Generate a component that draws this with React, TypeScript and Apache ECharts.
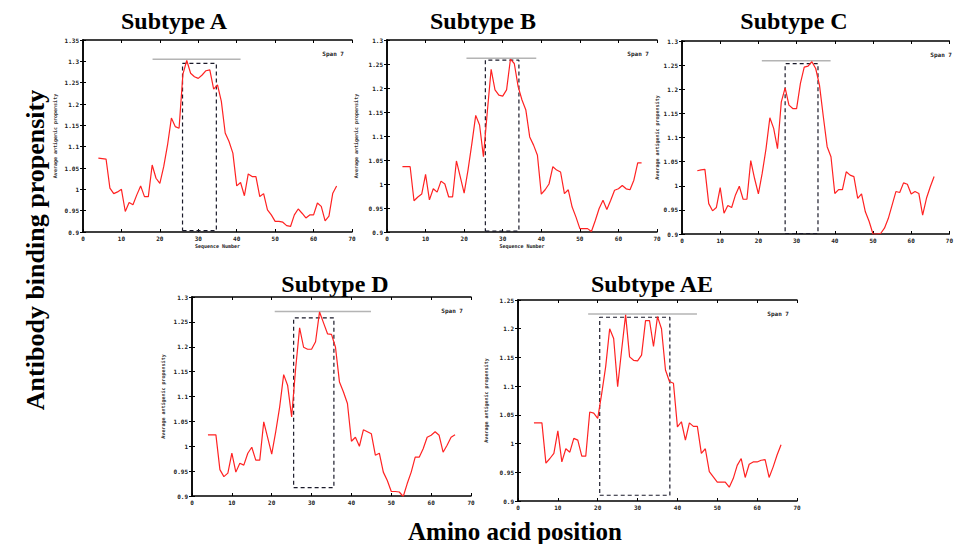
import React, { useEffect, useRef } from "react";
import * as echarts from "echarts";

// Sequence positions (window centre, span 7)
const positions = [4, 5, 6, 7, 8, 9, 10, 11, 12, 13, 14, 15, 16, 17, 18, 19, 20, 21, 22, 23, 24, 25, 26, 27, 28, 29, 30, 31, 32, 33, 34, 35, 36, 37, 38, 39, 40, 41, 42, 43, 44, 45, 46, 47, 48, 49, 50, 51, 52, 53, 54, 55, 56, 57, 58, 59, 60, 61, 62, 63, 64, 65, 66];

const subtypeA = [1.073, 1.072, 1.071, 1.003, 0.99, 0.994, 1.0, 0.948, 0.969, 0.964, 0.987, 1.008, 0.983, 0.983, 1.057, 1.026, 1.014, 1.053, 1.104, 1.167, 1.147, 1.143, 1.27, 1.302, 1.272, 1.264, 1.26, 1.268, 1.278, 1.28, 1.235, 1.245, 1.206, 1.132, 1.112, 1.085, 1.008, 1.016, 0.985, 1.036, 1.03, 1.03, 0.983, 0.99, 0.952, 0.94, 0.925, 0.925, 0.923, 0.915, 0.913, 0.94, 0.954, 0.944, 0.933, 0.94, 0.94, 0.968, 0.96, 0.926, 0.937, 0.991, 1.008];
const subtypeB = [1.036, 1.036, 1.036, 0.965, 0.973, 0.979, 1.02, 0.967, 0.99, 0.983, 1.006, 1.0, 0.973, 0.973, 1.048, 1.015, 0.981, 1.029, 1.084, 1.143, 1.123, 1.057, 1.15, 1.239, 1.196, 1.185, 1.183, 1.196, 1.26, 1.251, 1.203, 1.175, 1.154, 1.098, 1.081, 1.06, 0.979, 0.988, 1.0, 1.036, 1.029, 1.025, 0.98, 0.988, 0.952, 0.931, 0.907, 0.907, 0.907, 0.901, 0.924, 0.949, 0.966, 0.947, 0.966, 0.987, 0.99, 0.997, 0.99, 0.988, 1.008, 1.044, 1.044];
const subtypeC = [1.031, 1.033, 1.034, 0.963, 0.948, 0.955, 0.996, 0.943, 0.959, 0.955, 0.981, 0.999, 0.972, 0.972, 1.052, 1.015, 0.983, 1.026, 1.077, 1.141, 1.119, 1.077, 1.174, 1.203, 1.167, 1.16, 1.16, 1.212, 1.246, 1.248, 1.257, 1.243, 1.208, 1.143, 1.081, 1.06, 0.984, 0.992, 0.992, 1.029, 1.022, 1.019, 0.974, 0.983, 0.946, 0.926, 0.9, 0.9, 0.901, 0.912, 0.932, 0.96, 0.988, 0.986, 1.006, 1.003, 0.983, 0.988, 0.984, 0.939, 0.974, 0.998, 1.019];
const subtypeD = [1.023, 1.023, 1.023, 0.953, 0.939, 0.946, 0.986, 0.948, 0.966, 0.962, 0.986, 0.998, 0.972, 0.972, 1.049, 1.017, 0.984, 1.029, 1.079, 1.144, 1.122, 1.059, 1.156, 1.238, 1.199, 1.195, 1.195, 1.21, 1.27, 1.248, 1.226, 1.225, 1.199, 1.129, 1.109, 1.086, 1.01, 1.018, 1.0, 1.033, 1.029, 1.025, 0.982, 0.986, 0.948, 0.931, 0.909, 0.909, 0.908, 0.899, 0.925, 0.948, 0.978, 0.978, 0.995, 1.018, 1.022, 1.029, 1.022, 0.988, 1.002, 1.018, 1.023];
const subtypeAE = [1.036, 1.036, 1.036, 0.966, 0.974, 0.983, 1.022, 0.968, 0.991, 0.985, 1.009, 1.006, 0.978, 0.978, 1.055, 1.053, 1.044, 1.087, 1.134, 1.2, 1.183, 1.099, 1.163, 1.224, 1.151, 1.145, 1.144, 1.154, 1.214, 1.214, 1.169, 1.221, 1.2, 1.128, 1.108, 1.105, 1.029, 1.038, 1.006, 1.036, 1.03, 1.03, 0.983, 0.991, 0.951, 0.942, 0.933, 0.933, 0.933, 0.924, 0.939, 0.962, 0.974, 0.941, 0.964, 0.968, 0.968, 0.971, 0.972, 0.941, 0.959, 0.98, 0.998];

// Grey threshold line: [xStart, xEnd, y]
const peakLineA = [18.1, 41, 1.305];
const peakLineB = [20.6, 38.7, 1.262];
const peakLineC = [20.9, 38.9, 1.259];
const peakLineD = [20.75, 44.9, 1.271];
const peakLineAE = [17.6, 44.9, 1.2256];

// Dashed epitope box: [xStart, xEnd, yBottom, yTop]
const boxA = [25.9, 34.7, 0.903, 1.295];
const boxB = [25.5, 34.2, 0.902, 1.258];
const boxC = [27.0, 35.6, 0.901, 1.253];
const boxD = [25.5, 35.6, 0.917, 1.258];
const boxAE = [20.5, 38.1, 0.91, 1.22];

const yMaxes = [1.35, 1.3, 1.3, 1.3, 1.25];
const titles = ["Subtype A", "Subtype B", "Subtype C", "Subtype D", "Subtype AE"];
const seriesValues = [subtypeA, subtypeB, subtypeC, subtypeD, subtypeAE];
const peakLines = [peakLineA, peakLineB, peakLineC, peakLineD, peakLineAE];
const boxes = [boxA, boxB, boxC, boxD, boxAE];
const xAxisTitles = ["Sequence Number", "Sequence Number", "", "", ""];

// layout (pixels)
const layout = [
  { left: 83, top: 40, width: 269, height: 192, tx: 174, ty: 21, yGap: 26 },
  { left: 387, top: 40, width: 270, height: 192, tx: 483, ty: 21, yGap: 29 },
  { left: 682, top: 41, width: 279, height: 193, tx: 794, ty: 21, yGap: 22 },
  { left: 192, top: 297, width: 279, height: 199, tx: 335, ty: 284, yGap: 27 },
  { left: 518, top: 300, width: 279, height: 201, tx: 652, ty: 284, yGap: 30 },
];

const tickFont = "DejaVu Sans Mono";

export default function App() {
  const ref = useRef<HTMLDivElement>(null);
  useEffect(() => {
    if (!ref.current) return;
    const chart = echarts.init(ref.current, null, { renderer: "svg" });
    const grids: any[] = [];
    const xAxes: any[] = [];
    const yAxes: any[] = [];
    const series: any[] = [];
    const graphics: any[] = [];
    const axisLine = { show: true, lineStyle: { color: "#000", width: 1.5 } };
    const axisTick = { show: true, inside: true, length: 3, lineStyle: { color: "#000", width: 1 } };
    const labelStyle = { fontSize: 6, fontFamily: tickFont, fontWeight: "bold", color: "#222" };

    layout.forEach((L, i) => {
      grids.push({ left: L.left, top: L.top, width: L.width, height: L.height, show: false });
      xAxes.push({
        type: "value", gridIndex: i, position: "bottom", min: 0, max: 70, interval: 10,
        axisLine, axisTick, splitLine: { show: false },
        axisLabel: { ...labelStyle, margin: 3 },
        name: xAxisTitles[i], nameLocation: "middle", nameGap: 11,
        nameTextStyle: { fontSize: 5, fontFamily: tickFont, fontWeight: "bold", color: "#222" },
      });
      xAxes.push({
        type: "value", gridIndex: i, position: "top", min: 0, max: 70, interval: 10,
        axisLine, axisTick, splitLine: { show: false }, axisLabel: { show: false },
      });
      yAxes.push({
        type: "value", gridIndex: i, position: "left", min: 0.9, max: yMaxes[i], interval: 0.05,
        axisLine, axisTick, splitLine: { show: false },
        axisLabel: { ...labelStyle, margin: 4, formatter: (v: number) => String(parseFloat(v.toFixed(2))) },
        name: "Average antigenic propensity", nameLocation: "middle", nameGap: L.yGap,
        nameTextStyle: { fontSize: 5, fontFamily: tickFont, fontWeight: "bold", color: "#333" },
      });
      yAxes.push({
        type: "value", gridIndex: i, position: "right", min: 0.9, max: yMaxes[i], interval: 0.05,
        axisLine, axisTick, splitLine: { show: false }, axisLabel: { show: false },
      });
      const pl = peakLines[i];
      const bx = boxes[i];
      series.push({
        type: "line", xAxisIndex: 2 * i, yAxisIndex: 2 * i, symbol: "none", silent: true,
        lineStyle: { color: "#b4b4b4", width: 1.6 },
        data: [[pl[0], pl[2]], [pl[1], pl[2]]],
      });
      series.push({
        type: "line", xAxisIndex: 2 * i, yAxisIndex: 2 * i, symbol: "none", silent: true,
        lineStyle: { color: "#1a1a2a", width: 1.2, type: [4, 3] },
        data: [[bx[0], bx[2]], [bx[1], bx[2]], [bx[1], bx[3]], [bx[0], bx[3]], [bx[0], bx[2]]],
      });
      series.push({
        type: "line", xAxisIndex: 2 * i, yAxisIndex: 2 * i, symbol: "none", silent: true,
        lineStyle: { color: "#ff2222", width: 1.2 },
        data: positions.map((x, j) => [x, seriesValues[i][j]]),
      });
      graphics.push({
        type: "text", x: L.tx, y: L.ty,
        style: {
          text: titles[i], fill: "#000", fontSize: 24, fontWeight: "bold",
          fontFamily: "Liberation Serif", align: "center", verticalAlign: "middle",
        },
      });
      graphics.push({
        type: "text", x: Math.min(L.left + L.width - 8, 952), y: L.top + 13,
        style: {
          text: "Span 7", fill: "#222", fontSize: 6, fontWeight: "bold",
          fontFamily: tickFont, align: "right", verticalAlign: "middle",
        },
      });
    });

    graphics.push({
      type: "text", x: 35, y: 250, rotation: Math.PI / 2,
      style: {
        text: "Antibody binding propensity", fill: "#000", fontSize: 26, fontWeight: "bold",
        fontFamily: "Liberation Serif", align: "center", verticalAlign: "middle",
      },
    });
    graphics.push({
      type: "text", x: 515, y: 531,
      style: {
        text: "Amino acid position", fill: "#000", fontSize: 25, fontWeight: "bold",
        fontFamily: "Liberation Serif", align: "center", verticalAlign: "middle",
      },
    });

    chart.setOption({
      animation: false,
      backgroundColor: "#fff",
      grid: grids,
      xAxis: xAxes,
      yAxis: yAxes,
      series,
      graphic: graphics,
    });
    return () => chart.dispose();
  }, []);
  return (
    <div
      ref={ref}
      style={{ position: "absolute", left: 0, top: 0, width: 956, height: 544, background: "#fff" }}
    />
  );
}
